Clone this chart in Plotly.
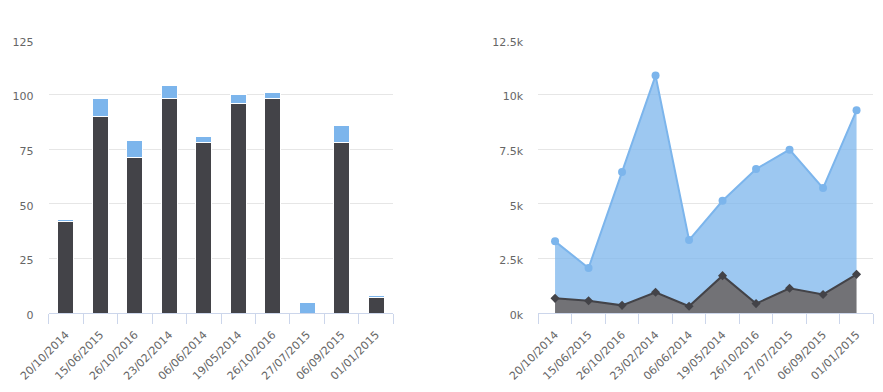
import plotly.graph_objects as go

dates = ["20/10/2014", "15/06/2015", "26/10/2016", "23/02/2014", "06/06/2014",
         "19/05/2014", "26/10/2016", "27/07/2015", "06/09/2015", "01/01/2015"]
positions = list(range(len(dates)))
boundaries = [p - 0.5 for p in positions] + [positions[-1] + 0.5]

bar_dark = [42, 90, 71, 98, 78, 96, 98, 0, 78, 7]
bar_blue = [1, 8, 8, 6, 3, 4, 3, 5, 8, 1]

area_blue = [3280, 2060, 6460, 10870, 3340, 5140, 6590, 7480, 5720, 9280]
area_dark = [670, 560, 350, 950, 310, 1710, 430, 1130, 850, 1770]

left_ticks = [0, 25, 50, 75, 100, 125]
right_ticks = [0, 2500, 5000, 7500, 10000, 12500]
right_ticktext = ["0k", "2.5k", "5k", "7.5k", "10k", "12.5k"]

DARK = "#434348"
BLUE = "#7cb5ec"
FONT = dict(family="DejaVu Sans", size=11, color="#666666")

fig = go.Figure()
fig.add_trace(go.Bar(x=positions, y=bar_dark, marker=dict(color=DARK, line=dict(color="white", width=1)),
                     xaxis="x", yaxis="y", hoverinfo="skip"))
fig.add_trace(go.Bar(x=positions, y=bar_blue, marker=dict(color=BLUE, line=dict(color="white", width=1)),
                     xaxis="x", yaxis="y", hoverinfo="skip"))

fig.add_trace(go.Scatter(x=positions, y=area_dark, mode="lines+markers", fill="tozeroy",
                         fillcolor="rgba(67,67,72,0.75)", line=dict(color=DARK, width=2),
                         marker=dict(symbol="diamond", size=7, color=DARK),
                         xaxis="x2", yaxis="y2", hoverinfo="skip"))
fig.add_trace(go.Scatter(x=positions, y=area_blue, mode="lines+markers", fill="tonexty",
                         fillcolor="rgba(124,181,236,0.75)", line=dict(color=BLUE, width=2),
                         marker=dict(symbol="circle", size=8, color=BLUE),
                         xaxis="x2", yaxis="y2", hoverinfo="skip"))

# page body has an 8px margin, so the figure is drawn 8px in from the window edge
OFF = 8
W, H = 883 - OFF, 392 - OFF
xcommon = dict(type="linear", tickmode="array", tickvals=positions, ticktext=dates,
               ticks="outside", ticklen=10, tickcolor="rgba(0,0,0,0)", tickwidth=1,
               minor=dict(tickvals=boundaries, ticks="outside", ticklen=10, tickcolor="#ccd6eb",
                          tickwidth=1, showgrid=False),
               showline=True, linecolor="#ccd6eb", linewidth=1, showgrid=False,
               tickangle=-45, tickfont=FONT, range=[-0.5, 9.5], zeroline=False,
               fixedrange=True, automargin=False)
ycommon = dict(showgrid=True, gridcolor="#e6e6e6", gridwidth=1, zeroline=False, showline=False,
               tickfont=FONT, ticks="outside", ticklen=12, tickcolor="rgba(0,0,0,0)",
               ticklabelshift=2, fixedrange=True, automargin=False)

fig.update_layout(
    width=W, height=H,
    margin=dict(l=0, r=0, t=40.3 - OFF, b=392 - 313.3),
    paper_bgcolor="white", plot_bgcolor="white",
    barmode="stack", bargap=0.535, showlegend=False,
    xaxis=dict(domain=[(48.7 - OFF) / W, (393.3 - OFF) / W], anchor="y", **xcommon),
    yaxis=dict(domain=[0, 1], anchor="x", range=[0, 125], tickvals=left_ticks, **ycommon),
    xaxis2=dict(domain=[(538.3 - OFF) / W, (873.3 - OFF) / W], anchor="y2", **xcommon),
    yaxis2=dict(domain=[0, 1], anchor="x2", range=[0, 12500], tickvals=right_ticks,
                ticktext=right_ticktext, **ycommon),
)

fig.write_html("out.html")
